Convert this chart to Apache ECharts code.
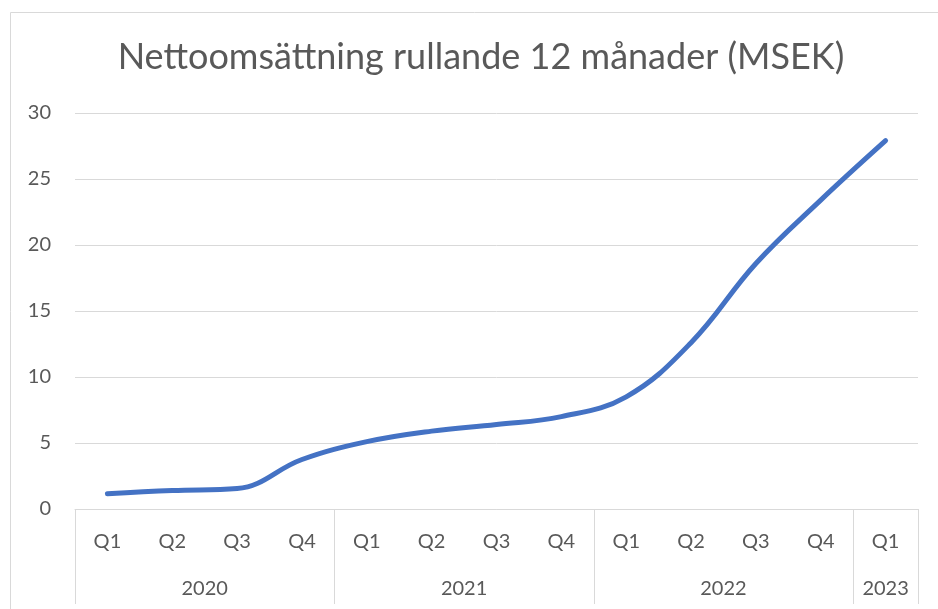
<!DOCTYPE html>
<html>
<head>
<meta charset="utf-8">
<script src="https://cdn.jsdelivr.net/npm/echarts@6/dist/echarts.min.js"></script>
<style>
html,body{margin:0;padding:0;background:#fff;}
#chart{width:938px;height:609px;}
</style>
</head>
<body>
<div id="chart"></div>
<script>
var titleText = 'Nettoomsättning rullande 12 månader (MSEK)';
var quarters = ['Q1','Q2','Q3','Q4','Q1','Q2','Q3','Q4','Q1','Q2','Q3','Q4','Q1'];
var years = ['2020','2021','2022','2023'];
var quartersPerYear = [4,4,4,1];
var netSales = [1.15, 1.4, 1.55, 3.75, 5.1, 5.9, 6.4, 7.0, 8.5, 12.6, 18.6, 23.4, 27.9];
var yTicks = [0,5,10,15,20,25,30];

var bounds = [0];
quartersPerYear.forEach(function(n){ bounds.push(bounds[bounds.length-1] + n); });
var yearCenters = [];
var yearByCenter = {};
for (var i = 0; i < years.length; i++) {
  var c = (bounds[i] + bounds[i+1]) / 2;
  yearCenters.push(c);
  yearByCenter[String(c)] = years[i];
}

var txt = '#595959';
var grid = '#d9d9d9';
var font = 'Lato';

var chart = echarts.init(document.getElementById('chart'));
chart.setOption({
  animation: false,
  textStyle: {fontFamily: font},
  title: {
    text: titleText,
    left: 476, top: 34, textAlign: 'center',
    textStyle: {fontFamily: font, fontSize: 36, fontWeight: 'normal', color: txt}
  },
  graphic: [{
    type: 'rect', left: 8, top: 10, silent: true,
    shape: {width: 960, height: 640},
    style: {fill: 'none', stroke: grid, lineWidth: 1}
  }],
  grid: {left: 75, right: 20, top: 113, bottom: 100},
  xAxis: [{
    type: 'category',
    data: quarters,
    boundaryGap: true,
    axisLine: {show: true, lineStyle: {color: grid, width: 1}},
    axisTick: {show: false},
    axisLabel: {color: txt, fontSize: 20, margin: 23, interval: 0, fontFamily: font}
  }, {
    type: 'value',
    min: 0, max: bounds[bounds.length-1],
    position: 'bottom',
    axisLine: {show: false},
    splitLine: {show: false},
    axisTick: {show: true, customValues: bounds, length: 95, lineStyle: {color: grid, width: 1}},
    axisLabel: {
      show: true, customValues: yearCenters, margin: 70, color: txt, fontSize: 20, fontFamily: font,
      formatter: function(v){ return yearByCenter[String(v)] || ''; }
    }
  }],
  yAxis: {
    type: 'value', min: yTicks[0], max: yTicks[yTicks.length-1], interval: 5,
    axisLine: {show: false}, axisTick: {show: false},
    splitLine: {lineStyle: {color: grid, width: 1}},
    axisLabel: {color: txt, fontSize: 20, margin: 24, fontFamily: font}
  },
  series: [{
    type: 'line',
    data: netSales,
    xAxisIndex: 0,
    smooth: 0.4,
    symbol: 'none',
    lineStyle: {color: '#4472C4', width: 5, cap: 'round', join: 'round'},
    itemStyle: {color: '#4472C4'}
  }]
});
</script>
</body>
</html>
